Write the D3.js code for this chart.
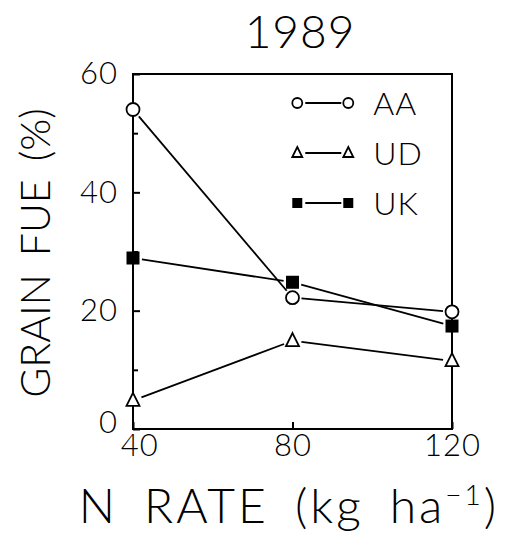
<!DOCTYPE html>
<html>
<head>
<meta charset="utf-8">
<script src="https://cdn.jsdelivr.net/npm/d3@7"></script>
<style>
  body { margin: 0; background: #fff; }
  text { font-family: Lato, "Liberation Sans", Arial, sans-serif; font-weight: 300; fill: #000; }
</style>
</head>
<body>
<svg id="drawing_region"></svg>
<script>
// values (1989)
const nRates = [40, 80, 120];
const aaValues = [54, 22.2, 19.8];
const udValues = [4.8, 14.9, 11.5];
const ukValues = [28.9, 24.8, 17.4];
const seriesNames = ["AA", "UD", "UK"];
const yTicks = [0, 20, 40, 60];
const yMinorTicks = [10, 30, 50];

const config = {
    width: 509,
    height: 539,
    margin: {top: 74, right: 57, bottom: 110, left: 133}
};

const series = [
    {name: seriesNames[0], values: aaValues, shape: "circle"},
    {name: seriesNames[1], values: udValues, shape: "triangle"},
    {name: seriesNames[2], values: ukValues, shape: "square"}
];

const svg = d3.select('#drawing_region')
    .attr('width', config.width)
    .attr('height', config.height);

const inner_width = config.width - config.margin.left - config.margin.right;
const inner_height = config.height - config.margin.top - config.margin.bottom;

const chart = svg.append('g')
    .attr('transform', `translate(${config.margin.left}, ${config.margin.top})`);

const xscale = d3.scaleLinear().domain([40, 120]).range([0, inner_width]);
const yscale = d3.scaleLinear().domain([0, 60]).range([inner_height, 0]);

// frame
chart.append('rect')
    .attr('width', inner_width)
    .attr('height', inner_height)
    .attr('fill', 'none')
    .attr('stroke', '#000')
    .attr('stroke-width', 2);

// axes, ticks point inward
const yaxis = d3.axisLeft(yscale)
    .tickValues(yTicks)
    .tickSize(-7)
    .tickPadding(15)
    .tickSizeOuter(0);
const yaxis_minor = d3.axisLeft(yscale)
    .tickValues(yMinorTicks)
    .tickSize(-5)
    .tickFormat('')
    .tickSizeOuter(0);
const xaxis = d3.axisBottom(xscale)
    .tickValues(nRates)
    .tickSize(-7)
    .tickPadding(5)
    .tickSizeOuter(0);

function styleAxis(g) {
    g.select('.domain').remove();
    g.selectAll('line').attr('stroke', '#000').attr('stroke-width', 2);
    g.selectAll('text')
        .attr('fill', '#000')
        .style('font-size', '31px')
        .style('letter-spacing', '1px')
        .style('font-family', 'Lato, "Liberation Sans", Arial, sans-serif');
}

const yaxis_group = chart.append('g').call(yaxis).call(styleAxis);
chart.append('g').call(yaxis_minor).call(styleAxis);
const xaxis_group = chart.append('g')
    .attr('transform', `translate(0, ${inner_height})`)
    .call(xaxis).call(styleAxis);

// the corner labels "0" and "40" sit apart as in the original
yaxis_group.selectAll('.tick text').filter(d => d === 0).attr('dy', '0.1em');
xaxis_group.selectAll('.tick text').filter(d => d === 40).attr('dx', '0.2em');

// marker drawing
function drawMarker(g, shape, x, y, size) {
    if (shape === 'circle') {
        g.append('circle')
            .attr('cx', x).attr('cy', y).attr('r', size / 2)
            .attr('fill', '#fff').attr('stroke', '#000').attr('stroke-width', 1.8);
    } else if (shape === 'triangle') {
        const h = size;
        g.append('path')
            .attr('d', `M${x},${y - h * 0.6}L${x + size / 2},${y + h * 0.4}L${x - size / 2},${y + h * 0.4}Z`)
            .attr('fill', '#fff').attr('stroke', '#000').attr('stroke-width', 1.8);
    } else {
        g.append('rect')
            .attr('x', x - size / 2).attr('y', y - size / 2)
            .attr('width', size).attr('height', size)
            .attr('fill', '#000');
    }
}

// lines with small gaps next to the markers
const gap = 9;
series.forEach(s => {
    const pts = s.values.map((v, i) => [xscale(nRates[i]), yscale(v)]);
    for (let i = 0; i < pts.length - 1; i++) {
        const [x0, y0] = pts[i];
        const [x1, y1] = pts[i + 1];
        const len = Math.hypot(x1 - x0, y1 - y0);
        const ux = (x1 - x0) / len, uy = (y1 - y0) / len;
        chart.append('line')
            .attr('x1', x0 + ux * gap).attr('y1', y0 + uy * gap)
            .attr('x2', x1 - ux * gap).attr('y2', y1 - uy * gap)
            .attr('stroke', '#000').attr('stroke-width', 1.8);
    }
    pts.forEach(p => drawMarker(chart, s.shape, p[0], p[1], 13));
});

// legend
const legend = chart.append('g').attr('transform', `translate(${inner_width * 0.515}, 29)`);
series.forEach((s, i) => {
    const row = legend.append('g').attr('transform', `translate(0, ${i * 50})`);
    row.append('line')
        .attr('x1', 8).attr('x2', 44)
        .attr('stroke', '#000').attr('stroke-width', 1.8);
    drawMarker(row, s.shape, 0, 0, 10);
    drawMarker(row, s.shape, 51, 0, 10);
    row.append('text')
        .attr('x', 76)
        .attr('y', 12)
        .style('font-size', '32px')
        .style('letter-spacing', '1px')
        .text(s.name);
});

// title
svg.append('text')
    .attr('x', 300)
    .attr('y', 48)
    .attr('text-anchor', 'middle')
    .style('font-size', '46px')
    .style('letter-spacing', '1px')
    .text('1989');

// x label
const xlabel = svg.append('text')
    .attr('x', 289)
    .attr('y', 523)
    .attr('text-anchor', 'middle')
    .style('font-size', '48px')
    .style('word-spacing', '10px')
    .style('letter-spacing', '3px');
xlabel.append('tspan').text('N RATE (kg ha');
xlabel.append('tspan').attr('dy', -18).style('font-size', '28px').text('\u22121');
xlabel.append('tspan').attr('dy', 18).text(')');

// y label
svg.append('text')
    .attr('transform', 'rotate(-90)')
    .attr('x', -253)
    .attr('y', 50)
    .attr('text-anchor', 'middle')
    .style('font-size', '41px')
    .style('word-spacing', '7px')
    .text('GRAIN FUE (%)');
</script>
</body>
</html>
